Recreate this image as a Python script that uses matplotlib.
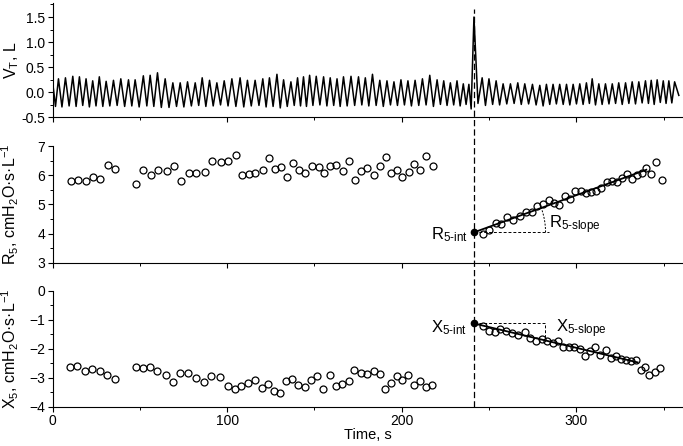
import numpy as np
import matplotlib.pyplot as plt
import matplotlib.transforms as mtransforms
from matplotlib.lines import Line2D
from matplotlib.ticker import MultipleLocator

plt.rcParams['font.family'] = 'Liberation Sans'
plt.rcParams['mathtext.fontset'] = 'custom'
plt.rcParams['mathtext.rm'] = 'Liberation Sans'
plt.rcParams['mathtext.it'] = 'Liberation Sans:italic'
plt.rcParams['mathtext.bf'] = 'Liberation Sans:bold'
plt.rcParams['font.size'] = 10

# =========================
# DATA
# =========================
# tidal volume: breath peaks and troughs
peak_t = [0.0, 3.4, 7.4, 11.6, 15.4, 19.2, 23.0, 26.8, 30.7, 34.9, 39.1, 43.5, 47.3, 52.0, 55.9,
          60.1, 64.5, 68.9, 73.1, 77.3, 81.7, 85.7, 89.9, 94.1, 98.3, 102.7, 107.4, 111.6, 116.0,
          120.4, 124.2, 128.5, 132.3, 136.5, 140.3, 143.7, 147.2, 151.0, 155.2, 159.0, 162.9,
          166.6, 170.9, 175.2, 179.1, 183.2, 187.4, 191.5, 195.5, 199.5, 203.5, 207.6, 211.8,
          216.0, 220.2, 224.0, 227.8, 231.6, 235.2, 238.4, 241.3,
          246.0, 249.9, 254.0, 258.0, 262.2, 266.4, 270.4, 274.8, 279.0, 282.8, 286.6, 290.4,
          294.3, 298.1, 301.9, 305.7, 309.0, 312.8, 316.6, 320.5, 324.2, 328.1, 331.9, 335.7,
          339.5, 342.8, 346.2, 349.7, 352.9, 356.2]
peak_v = [0.22, 0.27, 0.29, 0.32, 0.31, 0.27, 0.23, 0.31, 0.22, 0.24, 0.27, 0.25, 0.25, 0.33, 0.34,
          0.39, 0.27, 0.19, 0.19, 0.21, 0.19, 0.29, 0.24, 0.19, 0.23, 0.27, 0.29, 0.24, 0.24,
          0.27, 0.29, 0.36, 0.25, 0.21, 0.29, 0.31, 0.34, 0.32, 0.31, 0.29, 0.27,
          0.31, 0.32, 0.31, 0.29, 0.36, 0.24, 0.23, 0.21, 0.25, 0.23, 0.24, 0.27,
          0.34, 0.25, 0.23, 0.19, 0.23, 0.17, 0.16, 1.50,
          0.29, 0.27, 0.23, 0.17, 0.17, 0.19, 0.17, 0.16, 0.14, 0.16, 0.16, 0.16,
          0.16, 0.16, 0.17, 0.19, 0.27, 0.17, 0.17, 0.17, 0.19, 0.19, 0.21, 0.21,
          0.23, 0.24, 0.25, 0.23, 0.23, 0.21]
trough_t = [1.7, 5.4, 9.5, 13.5, 17.3, 21.1, 24.9, 28.8, 32.8, 37.0, 41.3, 45.4, 49.6, 54.0, 58.0,
            62.3, 66.7, 71.0, 75.2, 79.5, 83.7, 87.8, 92.0, 96.2, 100.5, 105.0, 109.5, 113.8,
            118.2, 122.3, 126.3, 130.4, 134.4, 138.4, 142.0, 145.4, 149.1, 153.1, 157.1, 161.0,
            164.7, 168.7, 173.0, 177.1, 181.1, 185.3, 189.4, 193.5, 197.5, 201.5, 205.5, 209.7,
            213.9, 218.1, 222.1, 225.9, 229.7, 233.4, 236.8, 239.7, 243.6,
            247.9, 252.0, 256.0, 260.1, 264.3, 268.4, 272.6, 276.9, 280.9, 284.7, 288.5, 292.4,
            296.2, 300.0, 303.8, 307.4, 310.9, 314.7, 318.6, 322.4, 326.2, 330.0, 333.8, 337.6,
            341.2, 344.5, 348.0, 351.3, 354.6, 358.6]
trough_v = [-0.28, -0.29, -0.27, -0.28, -0.26, -0.29, -0.27, -0.28, -0.27, -0.26,
            -0.28, -0.27, -0.29, -0.27, -0.28, -0.30, -0.30, -0.28, -0.29, -0.27,
            -0.26, -0.28, -0.27, -0.25, -0.27, -0.28, -0.29, -0.27, -0.26, -0.29,
            -0.28, -0.31, -0.28, -0.26, -0.27, -0.28, -0.26, -0.25, -0.27, -0.26,
            -0.28, -0.27, -0.26, -0.25, -0.27, -0.26, -0.28, -0.25, -0.26, -0.25,
            -0.27, -0.26, -0.25, -0.28, -0.24, -0.26, -0.25, -0.27, -0.24, -0.33, -0.22,
            -0.26, -0.24, -0.25, -0.23, -0.22, -0.24, -0.23, -0.25, -0.27, -0.24, -0.23, -0.24,
            -0.25, -0.23, -0.24, -0.22, -0.25, -0.24, -0.23, -0.22, -0.24, -0.22, -0.23, -0.21,
            -0.22, -0.24, -0.20, -0.22, -0.21, -0.06]

# R5 (resistance)
r5_t = [10.6, 14.8, 19.0, 23.2, 27.4, 31.6, 36.0, 48.0, 52.0, 56.2, 60.4, 65.4, 69.6, 73.6,
        78.0, 82.4, 87.2, 91.4, 96.2, 100.6, 105.0, 108.4, 112.4, 116.2, 120.4, 123.7, 127.2,
        130.6, 134.1, 137.5, 141.0, 144.8, 148.8, 152.3, 155.3, 158.8, 162.6, 166.4, 169.9,
        173.2, 176.8, 180.0, 184.1, 187.7, 190.9, 194.0, 197.2, 200.3, 203.9, 207.0, 210.6,
        214.0, 217.7,
        246.5, 250.1, 253.7, 256.9, 260.1, 263.8, 267.6, 271.1, 274.3, 277.6, 281.0, 284.3,
        287.2, 290.2, 293.4, 296.3, 299.4, 302.4, 305.5, 308.4, 311.4, 314.3, 317.5, 320.2,
        323.3, 325.9, 328.8, 331.7, 334.5, 337.4, 339.9, 342.4, 345.4, 348.7]
r5_v = [5.80, 5.85, 5.80, 5.94, 5.86, 6.34, 6.20, 5.71, 6.17, 6.00, 6.18, 6.13, 6.30, 5.81,
        6.06, 6.07, 6.12, 6.50, 6.45, 6.49, 6.69, 5.99, 6.04, 6.07, 6.17, 6.60, 6.20,
        6.28, 5.94, 6.43, 6.17, 6.06, 6.30, 6.28, 6.09, 6.31, 6.35, 6.16, 6.48,
        5.82, 6.15, 6.26, 5.99, 6.30, 6.62, 6.07, 6.19, 5.95, 6.11, 6.37, 6.17,
        6.65, 6.31,
        3.98, 4.13, 4.35, 4.33, 4.57, 4.45, 4.59, 4.75, 4.73, 4.94, 5.01, 5.15,
        5.06, 4.99, 5.30, 5.19, 5.47, 5.46, 5.39, 5.42, 5.45, 5.56, 5.75, 5.80,
        5.75, 5.91, 6.03, 5.88, 5.99, 6.06, 6.23, 6.03, 6.44, 5.83]

# X5 (reactance)
x5_t = [10.0, 14.2, 18.6, 22.8, 27.0, 31.0, 35.6, 47.6, 51.6, 55.8, 60.0, 65.0, 69.2, 73.2,
        77.8, 82.0, 86.8, 91.0, 95.8, 100.2, 104.6, 108.0, 112.0, 115.7, 119.9, 123.3, 126.8,
        130.2, 133.7, 137.1, 140.6, 144.4, 148.2, 151.7, 154.9, 158.6, 162.2, 165.8, 169.5,
        172.9, 176.6, 180.0, 183.9, 187.3, 190.5, 193.8, 197.2, 200.3, 203.7, 206.8, 210.2,
        213.7, 217.1,
        246.5, 249.7, 253.2, 256.4, 259.7, 263.1, 266.5, 270.8, 273.6, 276.9, 280.1, 283.4,
        286.4, 289.5, 292.5, 295.8, 298.8, 301.9, 304.8, 307.7, 310.7, 313.6, 316.8, 319.5,
        322.5, 325.4, 328.3, 331.3, 334.2, 336.9, 339.5, 341.8, 344.7, 347.7]
x5_v = [-2.64, -2.60, -2.77, -2.71, -2.76, -2.91, -3.06, -2.62, -2.68, -2.64, -2.78, -2.92,
        -3.14, -2.85, -2.85, -3.00, -3.16, -2.93, -2.97, -3.30, -3.38, -3.29, -3.17, -3.07,
        -3.36, -3.20, -3.46, -3.54, -3.10, -3.06, -3.25, -3.33, -3.07, -2.93, -3.40, -2.89,
        -3.28, -3.23, -3.10, -2.74, -2.84, -2.87, -2.76, -2.86, -3.38, -3.17, -2.94, -3.08,
        -2.92, -3.25, -3.10, -3.33, -3.24,
        -1.22, -1.39, -1.43, -1.33, -1.38, -1.47, -1.52, -1.43, -1.62, -1.74, -1.66, -1.74,
        -1.79, -1.74, -1.93, -1.94, -1.94, -2.00, -2.25, -2.07, -1.95, -2.21, -2.06, -2.32,
        -2.25, -2.37, -2.40, -2.44, -2.39, -2.74, -2.64, -2.92, -2.80, -2.67]

# deep breath time and the intercepts of the fitted lines
t_breath = 241.3
r5_int = 4.04
x5_int = -1.13
r5_fit_end = 340.0
x5_fit_end = 335.0
r5_slope_mark = 284.0
x5_slope_mark = 282.0

# =========================
# FIGURE
# =========================
fig = plt.figure(figsize=(6.83, 4.46), dpi=100)
left, width = 0.0769, 0.9231
ax1 = fig.add_axes([left, 0.7366, width, 0.2567])
ax2 = fig.add_axes([left, 0.4110, width, 0.2616])
ax3 = fig.add_axes([left, 0.0881, width, 0.2601])

for ax in (ax1, ax2, ax3):
    ax.spines['top'].set_visible(False)
    ax.spines['right'].set_visible(False)
    ax.spines['left'].set_linewidth(0.8)
    ax.spines['bottom'].set_linewidth(0.8)
    ax.set_xlim(0, 361)
    ax.xaxis.set_major_locator(MultipleLocator(100))
    ax.xaxis.set_minor_locator(MultipleLocator(50))
    ax.tick_params(which='major', direction='out', length=3.5, width=0.8, labelsize=10, pad=2)
    ax.tick_params(which='minor', direction='out', length=2.5, width=0.7)

# tidal volume trace
vt_t = np.array(peak_t + trough_t)
vt_v = np.array(peak_v + trough_v)
order = np.argsort(vt_t)
ax1.plot(vt_t[order], vt_v[order], color='black', lw=1.1)
ax1.set_ylim(-0.5, 1.78)
ax1.yaxis.set_major_locator(MultipleLocator(0.5))
ax1.yaxis.set_minor_locator(MultipleLocator(0.25))
ax1.yaxis.set_major_formatter(plt.FormatStrFormatter('%.1f'))
ax1.tick_params(labelbottom=False)
ax1.set_ylabel('V$_\\mathregular{T}$, L', fontsize=11.5)

mk = dict(marker='o', ls='none', ms=5, mfc='none', mec='black', mew=0.9)


def px_per_unit(ax):
    bb = ax.get_position()
    w = bb.width * fig.get_figwidth() * fig.dpi
    h = bb.height * fig.get_figheight() * fig.dpi
    x0, x1 = ax.get_xlim()
    y0, y1 = ax.get_ylim()
    return w / (x1 - x0), h / (y1 - y0)


def fit_slope(t, v, t0, v0, t_end):
    t = np.asarray(t)
    v = np.asarray(v)
    sel = (t > t0) & (t <= t_end)
    dt = t[sel] - t0
    return np.sum(dt * (v[sel] - v0)) / np.sum(dt * dt)


# R5 panel
ax2.plot(r5_t, r5_v, **mk)
ax2.set_ylim(3, 7)
ax2.yaxis.set_major_locator(MultipleLocator(1))
ax2.yaxis.set_minor_locator(MultipleLocator(0.5))
ax2.tick_params(labelbottom=False)
ax2.set_ylabel('R$_\\mathregular{5}$, cmH$_\\mathregular{2}$O·s·L$^\\mathregular{-1}$', fontsize=11.5)

k_r = fit_slope(r5_t, r5_v, t_breath, r5_int, r5_fit_end)
ax2.plot([t_breath, r5_fit_end], [r5_int, r5_int + k_r * (r5_fit_end - t_breath)],
         color='black', lw=1.3)
ax2.plot([t_breath, r5_slope_mark], [r5_int, r5_int], color='black', lw=0.7, ls=(0, (3, 2)))
sx, sy = px_per_unit(ax2)
rad = (r5_slope_mark - t_breath) * sx * 0.96
ang = np.arctan(k_r * sy / sx)
phi = np.linspace(0, ang, 30)
ax2.plot(t_breath + rad / sx * np.cos(phi), r5_int + rad / sy * np.sin(phi),
         color='black', lw=0.7, ls=(0, (2, 1.5)))
ax2.plot([t_breath], [r5_int], marker='o', color='black', ms=4.5)
ax2.text(237.5, 3.95, '$\\mathregular{R_{5\u2010int}}$', ha='right', va='center', fontsize=12)
ax2.text(284.5, 4.30, '$\\mathregular{R_{5\u2010slope}}$', ha='left', va='center', fontsize=12)

# X5 panel
ax3.plot(x5_t, x5_v, **mk)
ax3.set_ylim(-4, 0)
ax3.yaxis.set_major_locator(MultipleLocator(1))
ax3.yaxis.set_minor_locator(MultipleLocator(0.5))
ax3.set_ylabel('X$_\\mathregular{5}$, cmH$_\\mathregular{2}$O·s·L$^\\mathregular{-1}$', fontsize=11.5)
ax3.set_xlabel('Time, s', fontsize=10.5, labelpad=0)

k_x = fit_slope(x5_t, x5_v, t_breath, x5_int, x5_fit_end)
ax3.plot([t_breath, x5_fit_end], [x5_int, x5_int + k_x * (x5_fit_end - t_breath)],
         color='black', lw=1.3)
ax3.plot([t_breath, x5_slope_mark, x5_slope_mark],
         [x5_int, x5_int, x5_int + k_x * (x5_slope_mark - t_breath)],
         color='black', lw=0.7, ls=(0, (3, 2)))
ax3.plot([t_breath], [x5_int], marker='o', color='black', ms=4.5)
ax3.text(237.5, -1.29, '$\\mathregular{X_{5\u2010int}}$', ha='right', va='center', fontsize=12)
ax3.text(288.0, -1.30, '$\\mathregular{X_{5\u2010slope}}$', ha='left', va='center', fontsize=12)

for ax in (ax1, ax2, ax3):
    ax.yaxis.set_label_coords(-0.050, 0.5)

# dashed line marking the deep breath across all panels
trans = mtransforms.blended_transform_factory(ax3.transData, fig.transFigure)
fig.add_artist(Line2D([t_breath, t_breath], [0.0881, 0.980], transform=trans,
                      color='black', lw=0.9, ls=(0, (5, 2.5))))

fig.savefig('out.png', dpi=100)
